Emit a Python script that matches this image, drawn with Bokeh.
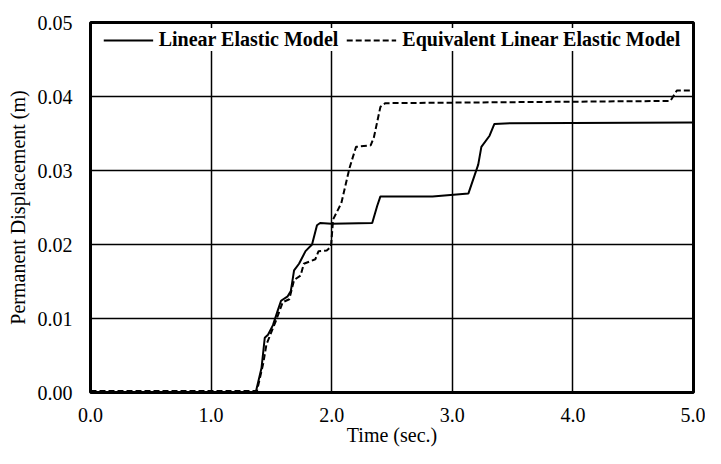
from bokeh.plotting import figure
from bokeh.models import FixedTicker, PrintfTickFormatter, Range1d, Legend, LegendItem
from bokeh.embed import file_html
from bokeh.resources import INLINE

# Linear Elastic Model (solid)
le_t = [0.0, 1.37, 1.418, 1.445, 1.472, 1.513, 1.553, 1.580, 1.635, 1.661, 1.688, 1.729,
        1.783, 1.837, 1.878, 1.904, 1.999, 2.336, 2.377, 2.404, 2.836, 3.134, 3.215,
        3.241, 3.309, 3.349, 3.484, 5.0]
le_d = [0.0, 0.0, 0.0033, 0.0074, 0.0078, 0.0091, 0.0111, 0.0124, 0.0130, 0.0137, 0.0165, 0.0174,
        0.0191, 0.0200, 0.0226, 0.0229, 0.0228, 0.0229, 0.0252, 0.0265, 0.0265, 0.0269, 0.0308,
        0.0332, 0.0347, 0.0363, 0.0364, 0.0365]

# Equivalent Linear Elastic Model (dashed)
eq_t = [0.0, 1.38, 1.432, 1.459, 1.540, 1.594, 1.648, 1.688, 1.742, 1.769, 1.864, 1.891,
        1.959, 1.994, 2.012, 2.080, 2.147, 2.202, 2.323, 2.350, 2.404, 2.445, 4.808,
        4.862, 5.0]
eq_d = [0.0002, 0.0002, 0.0039, 0.0065, 0.0098, 0.0122, 0.0126, 0.0152, 0.0158, 0.0174, 0.0180, 0.0191,
        0.0192, 0.0197, 0.0234, 0.0256, 0.0303, 0.0332, 0.0334, 0.0345, 0.0386, 0.0391, 0.0394,
        0.0408, 0.0408]

x_ticks = [0, 1, 2, 3, 4, 5]
y_ticks = [0.0, 0.01, 0.02, 0.03, 0.04, 0.05]

FONT = "Liberation Serif"

p = figure(width=705, height=448, output_backend="svg", toolbar_location=None,
           x_range=Range1d(0, 5), y_range=Range1d(0, 0.05),
           min_border_left=90, min_border_right=12, min_border_top=22, min_border_bottom=54)
p.background_fill_color = "white"
p.border_fill_color = "white"
p.outline_line_color = "black"
p.outline_line_width = 3

for ax in (p.xaxis[0], p.yaxis[0]):
    ax.axis_line_color = None
    ax.major_tick_line_color = None
    ax.minor_tick_line_color = None
    ax.major_label_text_font = FONT
    ax.major_label_text_font_size = "20px"
    ax.major_label_text_color = "black"
    ax.axis_label_text_font = FONT
    ax.axis_label_text_font_size = "20px"
    ax.axis_label_text_font_style = "normal"
    ax.axis_label_text_color = "black"

p.xaxis.ticker = FixedTicker(ticks=x_ticks)
p.yaxis.ticker = FixedTicker(ticks=y_ticks)
p.xaxis.formatter = PrintfTickFormatter(format="%.1f")
p.yaxis.formatter = PrintfTickFormatter(format="%.2f")
p.xaxis.axis_label = "Time (sec.)"
p.yaxis.axis_label = "Permanent Displacement (m)"
p.xaxis.major_label_standoff = 9
p.yaxis.major_label_standoff = 12
p.xaxis.axis_label_standoff = -1
p.yaxis.axis_label_standoff = 6

p.xgrid.ticker = FixedTicker(ticks=x_ticks)
p.ygrid.ticker = FixedTicker(ticks=y_ticks)
for g in (p.xgrid[0], p.ygrid[0]):
    g.grid_line_color = "black"
    g.grid_line_width = 1.5
    g.grid_line_alpha = 1.0

r1 = p.line(le_t, le_d, line_color="black", line_width=2)
r2 = p.line(eq_t, eq_d, line_color="black", line_width=2, line_dash="6 3")

legend = Legend(items=[LegendItem(label="Linear Elastic Model", renderers=[r1]),
                       LegendItem(label="Equivalent Linear Elastic Model", renderers=[r2])],
                location="top_center", orientation="horizontal")
legend.label_text_font = FONT
legend.label_text_font_size = "20px"
legend.label_text_font_style = "bold"
legend.label_text_color = "black"
legend.glyph_width = 50
legend.glyph_height = 22
legend.label_height = 22
legend.label_standoff = 6
legend.spacing = 8
legend.padding = 6
legend.margin = 6
legend.border_line_color = None
legend.background_fill_color = "white"
legend.background_fill_alpha = 1.0
p.add_layout(legend)

open("out.html", "w").write(file_html(p, INLINE))
